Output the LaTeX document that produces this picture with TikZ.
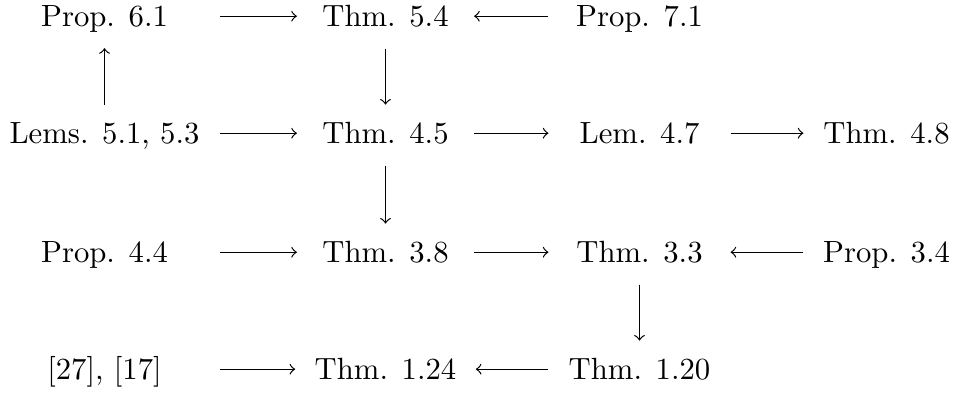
\documentclass[tikz,border=0pt]{standalone}
\begin{document}
\begin{tikzpicture}[x=0.3257pt,y=-0.3257pt]
\tikzset{
  cell/.style={inner sep=0pt, outer sep=0pt, text height=7pt, text depth=0.6pt, anchor=base},
  colA/.style={cell, minimum width=62.5pt},
  colB/.style={cell, minimum width=45pt},
  colC/.style={cell, minimum width=46.6pt},
  colD/.style={cell, minimum width=41.4pt},
  harr/.style={->, line width=0.4pt, shorten <=6.35pt, shorten >=6.35pt},
  uparr/.style={->, line width=0.4pt, shorten <=5.5pt, shorten >=6.6pt},
  downarr/.style={->, line width=0.4pt, shorten <=6.8pt, shorten >=5.5pt}
}
\useasboundingbox (0,0) rectangle (956,394);
% row 1
\node[colA] (p61) at (104.5,26) {Prop. 6.1};
\node[colB] (t54) at (385.5,26) {Thm. 5.4};
\node[colC] (p71) at (639.5,26) {Prop. 7.1};
% row 2
\node[colA] (l51) at (104.5,143) {Lems. 5.1, 5.3};
\node[colB] (t45) at (385.5,143) {Thm. 4.5};
\node[colC] (l47) at (639.5,143) {Lem. 4.7};
\node[colD] (t48) at (886.5,143) {Thm. 4.8};
% row 3
\node[colA] (p44) at (104.5,262) {Prop. 4.4};
\node[colB] (t38) at (385.5,262) {Thm. 3.8};
\node[colC] (t33) at (639.5,262) {Thm. 3.3};
\node[colD] (p34) at (886.5,262) {Prop. 3.4};
% row 4
\node[colA] (r27) at (104.5,379) {[27], [17]};
\node[colB] (t124) at (385.5,379) {Thm. 1.24};
\node[colC] (t120) at (639.5,379) {Thm. 1.20};
% horizontal arrows
\draw[harr] (p61) -- (t54);
\draw[harr] (p71) -- (t54);
\draw[harr] (l51) -- (t45);
\draw[harr] (t45) -- (l47);
\draw[harr] (l47) -- (t48);
\draw[harr] (p44) -- (t38);
\draw[harr] (t38) -- (t33);
\draw[harr] (p34) -- (t33);
\draw[harr] (r27) -- (t124);
\draw[harr] (t120) -- (t124);
% vertical arrows
\draw[uparr] (l51.north) -- (p61.south);
\draw[downarr] (t54.south) -- (t45.north);
\draw[downarr] (t45.south) -- (t38.north);
\draw[downarr] (t33.south) -- (t120.north);
\end{tikzpicture}
\end{document}
